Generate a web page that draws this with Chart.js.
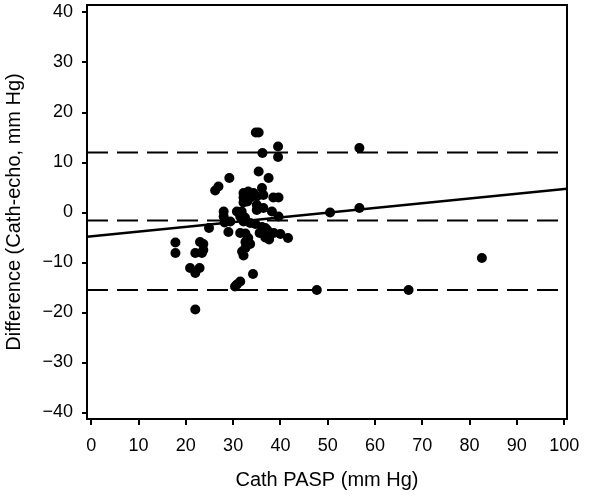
<!DOCTYPE html>
<html>
<head>
<meta charset="utf-8">
<script src="https://cdn.jsdelivr.net/npm/chart.js@4/dist/chart.umd.min.js"></script>
<style>
  html, body { margin: 0; padding: 0; background: #fff; }
  #wrap { width: 600px; height: 496px; }
</style>
</head>
<body>
<div id="wrap"><canvas id="c" width="600" height="496"></canvas></div>
<script>
// ---- data ----
const pointX = [34.8, 35.4, 36.2, 39.5, 39.5, 35.4, 37.5, 29.2, 26.9, 26.2,
                36.1, 32.2, 33.2, 34.3, 32.2, 33.6, 35.0, 36.4, 38.5, 39.6,
                32.2, 33.0, 35.0, 36.4, 35.0, 28.0, 30.8, 31.8, 38.2, 28.0,
                31.5, 32.5, 39.6, 28.2, 29.4, 32.2, 33.6, 34.7, 36.1, 36.8,
                24.9, 29.0, 31.5, 32.6, 35.6, 37.2, 38.6, 40.0, 41.6, 36.8,
                37.6, 33.2, 32.6, 33.6, 32.6, 31.9, 32.2, 17.8, 17.8, 22.0,
                23.0, 23.7, 23.7, 23.4, 20.9, 22.0, 22.9, 22.0, 30.8, 31.5,
                34.2, 47.7, 50.5, 56.7, 56.7, 67.1, 82.6, 30.4];
const pointY = [16.0, 16.0, 11.9, 13.2, 11.1, 8.2, 6.9, 6.9, 5.2, 4.4,
                4.9, 3.9, 4.2, 3.9, 3.0, 3.0, 3.2, 3.5, 3.0, 3.0,
                2.0, 2.2, 1.5, 0.9, 0.5, 0.2, 0.2, 0.2, 0.2, -0.8,
                -0.8, -1.0, -0.8, -2.0, -1.8, -1.8, -2.1, -2.3, -2.9, -3.1,
                -3.1, -3.9, -4.1, -4.2, -4.1, -3.5, -4.1, -4.3, -5.1, -5.0,
                -5.4, -5.1, -5.9, -6.3, -7.1, -7.8, -8.6, -6.0, -8.1, -8.1,
                -5.9, -6.3, -7.5, -8.1, -11.1, -12.1, -11.1, -19.4, -14.4, -13.8,
                -12.3, -15.5, 0.0, 12.9, 0.9, -15.5, -9.1, -14.8];

// reference lines (mean bias and limits of agreement) and regression line
const upperLimit = 12.0;
const meanBias = -1.6;
const lowerLimit = -15.5;
const regressionX = [-0.9, 100.6];
const regressionY = [-4.86, 4.74];

// axes
const xRange = [-0.9, 100.6];
const yRange = [-41.3, 41.5];
const xTicks = [0, 10, 20, 30, 40, 50, 60, 70, 80, 90, 100];
const yTicks = [-40, -30, -20, -10, 0, 10, 20, 30, 40];
const xTitle = 'Cath PASP (mm Hg)';
const yTitle = 'Difference (Cath-echo, mm Hg)';

// ---- build chart ----
const scatterData = pointX.map((x, i) => ({ x: x, y: pointY[i] }));
const hline = v => xRange.map(x => ({ x: x, y: v }));
const regData = regressionX.map((x, i) => ({ x: x, y: regressionY[i] }));

const FONT = "'Liberation Sans', Arial, Helvetica, sans-serif";

const framePlugin = {
  id: 'frame',
  afterDraw(chart) {
    const { ctx, chartArea: a } = chart;
    ctx.save();
    ctx.strokeStyle = '#000';
    ctx.lineWidth = 2;
    ctx.strokeRect(a.left, a.top, a.right - a.left, a.bottom - a.top);
    ctx.restore();
  }
};

const dashStyle = {
  type: 'line', showLine: true, pointRadius: 0, borderColor: '#000',
  borderWidth: 2, borderDash: [21, 9], fill: false, order: 2
};

new Chart(document.getElementById('c'), {
  type: 'scatter',
  data: {
    datasets: [
      { label: 'points', data: scatterData, pointRadius: 5, pointHoverRadius: 5,
        pointBackgroundColor: '#000', pointBorderColor: '#000', pointBorderWidth: 0, order: 0 },
      Object.assign({ label: 'upper', data: hline(upperLimit) }, dashStyle),
      Object.assign({ label: 'mean', data: hline(meanBias) }, dashStyle),
      Object.assign({ label: 'lower', data: hline(lowerLimit) }, dashStyle),
      { type: 'line', label: 'regression', data: regData, showLine: true, pointRadius: 0,
        borderColor: '#000', borderWidth: 2.5, fill: false, order: 1 }
    ]
  },
  options: {
    responsive: false,
    animation: false,
    devicePixelRatio: 1,
    layout: { padding: { top: 5, right: 33, left: 0, bottom: 0 } },
    plugins: { legend: { display: false }, tooltip: { enabled: false } },
    scales: {
      x: {
        type: 'linear', min: xRange[0], max: xRange[1],
        afterBuildTicks: s => { s.ticks = xTicks.map(v => ({ value: v })); },
        afterFit: s => { s.height = 77; s.paddingLeft = 0; s.paddingRight = 0; },
        grid: { drawOnChartArea: false, drawTicks: true, tickLength: 6, color: '#000', lineWidth: 2 },
        border: { display: true, color: '#000', width: 2 },
        ticks: { color: '#000', font: { family: FONT, size: 18 }, padding: 10, maxRotation: 0 },
        title: { display: true, text: xTitle, color: '#000',
                 font: { family: FONT, size: 20, lineHeight: 1.2 }, padding: { top: 0, bottom: 4 } }
      },
      y: {
        type: 'linear', min: yRange[0], max: yRange[1],
        afterBuildTicks: s => { s.ticks = yTicks.map(v => ({ value: v })); },
        afterFit: s => { s.width = 87; s.paddingTop = 0; s.paddingBottom = 0; },
        grid: { drawOnChartArea: false, drawTicks: true, tickLength: 5, color: '#000', lineWidth: 2 },
        border: { display: true, color: '#000', width: 2 },
        ticks: { color: '#000', font: { family: FONT, size: 18 }, padding: 9,
                 callback: v => (v < 0 ? '\u2212' + Math.abs(v) : String(v)) },
        title: { display: true, text: yTitle, color: '#000',
                 font: { family: FONT, size: 20, lineHeight: 1.2 }, padding: { top: 2, bottom: 0 } }
      }
    }
  },
  plugins: [framePlugin]
});
</script>
</body>
</html>
